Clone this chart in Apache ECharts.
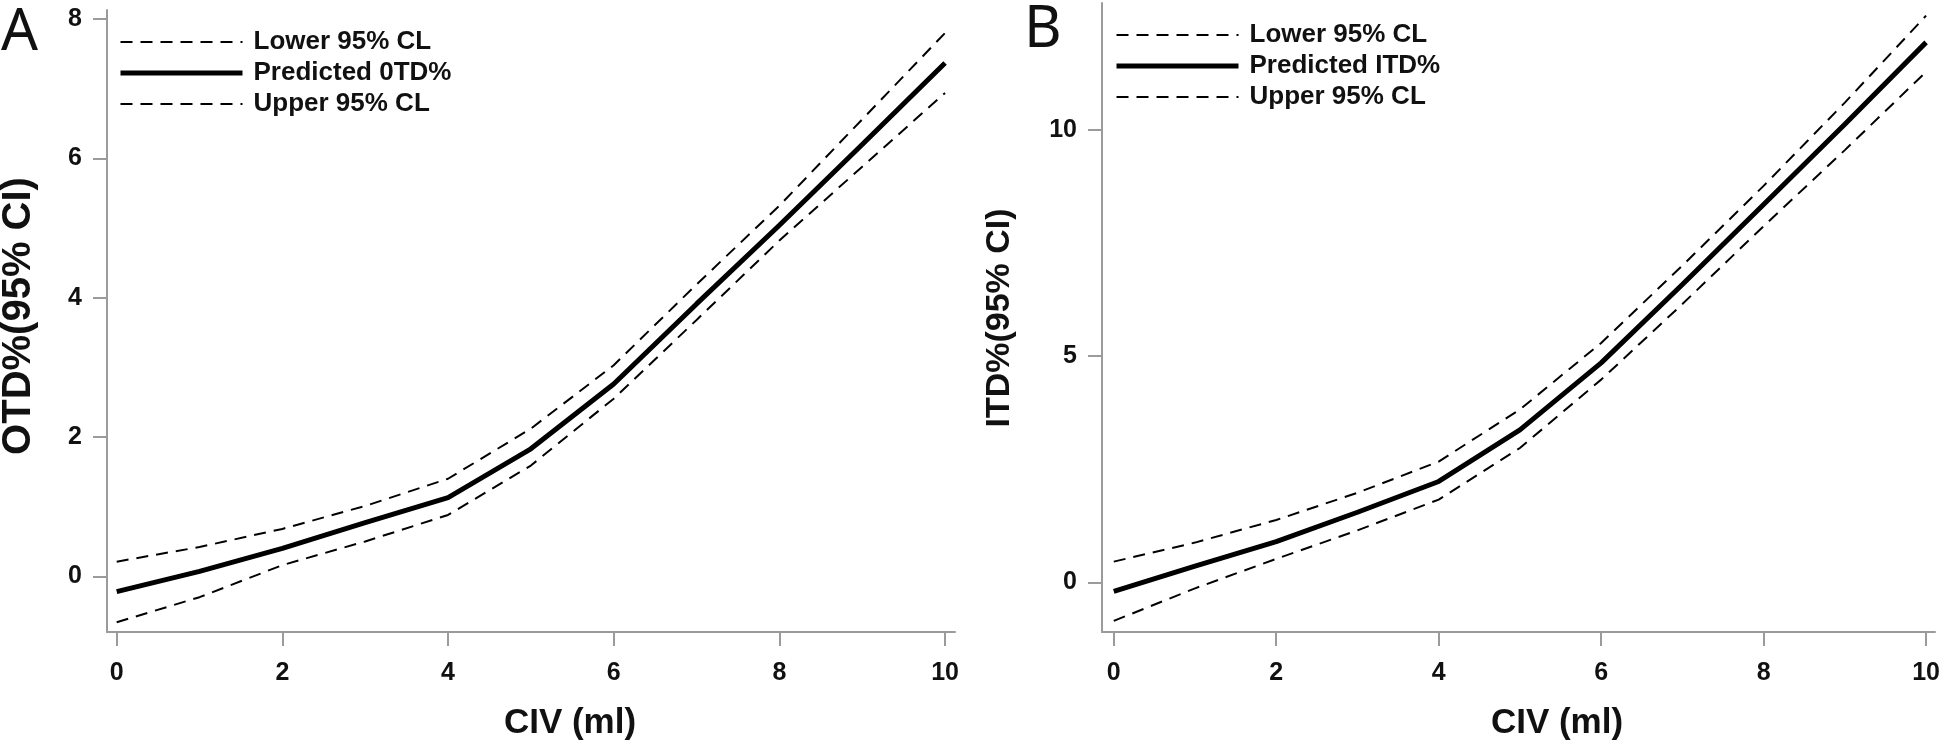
<!DOCTYPE html>
<html>
<head>
<meta charset="utf-8">
<script src="https://cdn.jsdelivr.net/npm/echarts@6/dist/echarts.min.js"></script>
<style>
html,body{margin:0;padding:0;background:#fff;}
#chart{width:1946px;height:743px;}
</style>
</head>
<body>
<div id="chart"></div>
<script>
// ---- data ----
var civValues = [0, 1, 2, 3, 4, 5, 6, 7, 8, 9, 10];
var xTicks = [0, 2, 4, 6, 8, 10];

var otdPredicted = [-0.22, 0.07, 0.40, 0.77, 1.13, 1.83, 2.76, 3.91, 5.04, 6.20, 7.37];
var otdLower     = [-0.66, -0.30, 0.16, 0.50, 0.88, 1.59, 2.55, 3.68, 4.82, 5.88, 6.94];
var otdUpper     = [0.21, 0.42, 0.68, 1.01, 1.40, 2.12, 3.03, 4.19, 5.32, 6.56, 7.80];
var otdTicks = [0, 2, 4, 6, 8];

var itdPredicted = [-0.20, 0.36, 0.90, 1.55, 2.23, 3.37, 4.85, 6.58, 8.35, 10.12, 11.93];
var itdLower     = [-0.85, -0.13, 0.52, 1.15, 1.83, 2.97, 4.48, 6.15, 7.87, 9.55, 11.28];
var itdUpper     = [0.46, 0.88, 1.38, 1.98, 2.67, 3.82, 5.29, 7.00, 8.76, 10.60, 12.52];
var itdTicks = [0, 5, 10];

var legendA = ['Lower 95% CL', 'Predicted 0TD%', 'Upper 95% CL'];
var legendB = ['Lower 95% CL ', 'Predicted ITD%', 'Upper 95% CL '];

// ---- helpers ----
function pairs(xs, ys) { return xs.map(function (x, i) { return [x, ys[i]]; }); }
var AX = '#9b9b9b';
var FONT = '"Liberation Sans", Arial, sans-serif';

function xAxisCfg(idx, min, max) {
  return {
    type: 'value', gridIndex: idx, min: min, max: max,
    axisLine: { show: true, onZero: false, lineStyle: { color: AX, width: 2 } },
    axisTick: { show: true, customValues: xTicks, length: 14, lineStyle: { color: AX, width: 2 } },
    axisLabel: { customValues: xTicks, margin: 29, color: '#111', fontSize: 25, fontWeight: 'bold', fontFamily: FONT },
    splitLine: { show: false }
  };
}
function yAxisCfg(idx, min, max, ticks) {
  return {
    type: 'value', gridIndex: idx, min: min, max: max,
    axisLine: { show: true, onZero: false, lineStyle: { color: AX, width: 2 } },
    axisTick: { show: true, customValues: ticks, length: 14, lineStyle: { color: AX, width: 2 } },
    axisLabel: { customValues: ticks, margin: 25, color: '#111', fontSize: 25, fontWeight: 'bold', fontFamily: FONT },
    splitLine: { show: false }
  };
}
function lineSeries(name, idx, ys, dashed) {
  return {
    name: name, type: 'line', xAxisIndex: idx, yAxisIndex: idx,
    data: pairs(civValues, ys), symbol: 'none', silent: true, animation: false,
    lineStyle: dashed ? { color: '#000', width: 2, type: [12, 8] } : { color: '#000', width: 5, type: 'solid' },
    itemStyle: { color: '#000' }
  };
}
function legendCfg(names, left, top) {
  return {
    data: names, orient: 'vertical', left: left, top: top,
    itemWidth: 122, itemHeight: 14, itemGap: 1,
    selectedMode: false,
    itemStyle: { color: 'rgba(0,0,0,0)', borderColor: 'rgba(0,0,0,0)', borderWidth: 0, opacity: 0 },
    lineStyle: { width: 'inherit', type: 'inherit', color: 'inherit' },
    textStyle: { fontSize: 26, fontWeight: 'bold', color: '#111', fontFamily: FONT, lineHeight: 30, padding: [0, 0, 0, 6] }
  };
}

var chart = echarts.init(document.getElementById('chart'), null, { renderer: 'canvas' });
chart.setOption({
  backgroundColor: '#fff',
  animation: false,
  grid: [
    { left: 107, right: 991, top: 10, bottom: 111 },
    { left: 1102, right: 11, top: 3, bottom: 111 }
  ],
  xAxis: [xAxisCfg(0, -0.117, 10.12), xAxisCfg(1, -0.145, 10.11)],
  yAxis: [yAxisCfg(0, -0.8, 8.13, otdTicks), yAxisCfg(1, -1.095, 12.8, itdTicks)],
  legend: [legendCfg(legendA, 113, 22), legendCfg(legendB, 1109, 15)],
  series: [
    lineSeries(legendA[0], 0, otdLower, true),
    lineSeries(legendA[1], 0, otdPredicted, false),
    lineSeries(legendA[2], 0, otdUpper, true),
    lineSeries(legendB[0], 1, itdLower, true),
    lineSeries(legendB[1], 1, itdPredicted, false),
    lineSeries(legendB[2], 1, itdUpper, true)
  ],
  graphic: [
    { type: 'text', left: 1, top: 4, style: { text: 'A', fontSize: 58, fontFamily: '"Noto Sans", sans-serif', fill: '#111' } },
    { type: 'text', left: 1024, top: 1, style: { text: 'B', fontSize: 58, fontFamily: '"Noto Sans", sans-serif', fill: '#111' } },
    { type: 'text', x: 570, y: 723, style: { text: 'CIV (ml)', fontSize: 35, fontWeight: 'bold', fontFamily: FONT, fill: '#111', align: 'center', verticalAlign: 'middle' } },
    { type: 'text', x: 1557, y: 723, style: { text: 'CIV (ml)', fontSize: 35, fontWeight: 'bold', fontFamily: FONT, fill: '#111', align: 'center', verticalAlign: 'middle' } },
    { type: 'text', x: 19, y: 316, rotation: Math.PI / 2, style: { text: 'OTD%(95% CI)', fontSize: 40, fontWeight: 'bold', fontFamily: FONT, fill: '#111', align: 'center', verticalAlign: 'middle' } },
    { type: 'text', x: 1000, y: 318, rotation: Math.PI / 2, style: { text: 'ITD%(95% CI)', fontSize: 34, fontWeight: 'bold', fontFamily: FONT, fill: '#111', align: 'center', verticalAlign: 'middle' } }
  ]
});
</script>
</body>
</html>
